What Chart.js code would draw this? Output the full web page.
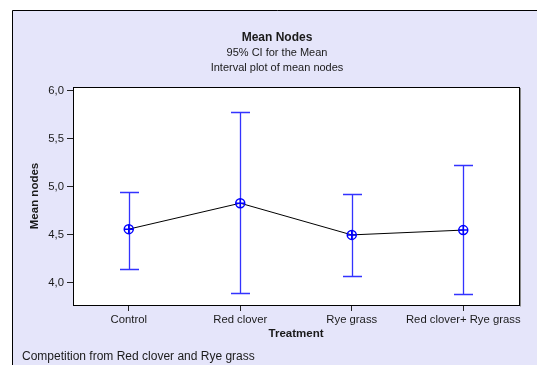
<!DOCTYPE html>
<html>
<head>
<meta charset="utf-8">
<script src="https://cdn.jsdelivr.net/npm/chart.js@4.4.1/dist/chart.umd.min.js"></script>
<style>
  html, body { margin: 0; padding: 0; background: #fff; overflow: hidden; }
  canvas { display: block; }
</style>
</head>
<body>
<canvas id="chart" width="542" height="370"></canvas>
<script>
const categories = ["Control", "Red clover", "Rye grass", "Red clover+ Rye grass"];
const means = [4.56, 4.83, 4.50, 4.55];
const upper = [4.95, 5.78, 4.93, 5.23];
const lower = [4.15, 3.90, 4.07, 3.88];
const yTicks = [4.0, 4.5, 5.0, 5.5, 6.0];

const titleLines = ["Mean Nodes", "95% CI for the Mean", "Interval plot of mean nodes"];
const footnote = "Competition from Red clover and Rye grass";

const FONT = "'Liberation Sans', Arial, sans-serif";
const BLUE = "#3333ff";
const TEXT = "#1a1a1a";

const points = means.map((m, i) => ({ x: i, y: m }));

// page background, lavender frame and white plot area
const background = {
    id: "background",
    beforeDraw(chart) {
        const { ctx, width, height, chartArea } = chart;
        ctx.save();
        ctx.fillStyle = "#fff";
        ctx.fillRect(0, 0, width, height);
        ctx.fillStyle = "#e5e5fa";
        ctx.fillRect(12, 10, width - 12, height - 10);
        ctx.strokeStyle = "#000";
        ctx.lineWidth = 1;
        ctx.beginPath();
        ctx.moveTo(12.5, height);
        ctx.lineTo(12.5, 10.5);
        ctx.lineTo(width, 10.5);
        ctx.stroke();
        ctx.fillStyle = "#fff";
        ctx.fillRect(chartArea.left, chartArea.top, chartArea.right - chartArea.left, chartArea.bottom - chartArea.top);
        ctx.restore();
    },
    afterDraw(chart) {
        const { ctx, chartArea } = chart;
        ctx.save();
        ctx.strokeStyle = "#000";
        ctx.lineWidth = 1;
        ctx.strokeRect(chartArea.left + 0.5, chartArea.top + 0.5,
            chartArea.right - chartArea.left, chartArea.bottom - chartArea.top);
        ctx.strokeStyle = "#888";
        ctx.beginPath();
        ctx.moveTo(chartArea.right + 1.5, chartArea.top + 1);
        ctx.lineTo(chartArea.right + 1.5, chartArea.bottom + 1.5);
        ctx.stroke();

        ctx.fillStyle = TEXT;
        ctx.textAlign = "center";
        ctx.textBaseline = "middle";
        ctx.font = "bold 12px " + FONT;
        ctx.fillText(titleLines[0], 277, 38);
        ctx.font = "11px " + FONT;
        ctx.fillText(titleLines[1], 277, 53);
        ctx.fillText(titleLines[2], 277, 68);

        ctx.textAlign = "left";
        ctx.font = "12px " + FONT;
        ctx.fillText(footnote, 22, 357);
        ctx.restore();
    },
};

// 95% CI whiskers
const errorBars = {
    id: "errorBars",
    beforeDatasetsDraw(chart) {
        const { ctx, scales: { x, y } } = chart;
        ctx.save();
        ctx.strokeStyle = BLUE;
        ctx.lineWidth = 1.3;
        categories.forEach((c, i) => {
            const px = Math.round(x.getPixelForValue(i)) + 0.5;
            const top = Math.round(y.getPixelForValue(upper[i])) + 0.5;
            const bot = Math.round(y.getPixelForValue(lower[i])) + 0.5;
            ctx.beginPath();
            ctx.moveTo(px, top);
            ctx.lineTo(px, bot);
            ctx.moveTo(px - 9.5, top);
            ctx.lineTo(px + 9.5, top);
            ctx.moveTo(px - 9.5, bot);
            ctx.lineTo(px + 9.5, bot);
            ctx.stroke();
        });
        ctx.restore();
    },
};

new Chart(document.getElementById("chart"), {
    type: "line",
    data: {
        datasets: [
            {
                data: points,
                showLine: false,
                pointStyle: "circle",
                pointRadius: 4.5,
                pointBorderWidth: 1.5,
                pointBorderColor: "#0000ff",
                pointBackgroundColor: "rgba(0,0,0,0)",
            },
            {
                data: points,
                showLine: false,
                pointStyle: "cross",
                pointRadius: 4.5,
                pointBorderWidth: 1.5,
                pointBorderColor: "#0000ff",
            },
            {
                data: points,
                borderColor: "#000",
                borderWidth: 1,
                pointRadius: 0,
                tension: 0,
            },
        ],
    },
    options: {
        responsive: false,
        animation: false,
        layout: { padding: { left: 20, right: 23, top: 87, bottom: 25 } },
        plugins: {
            legend: { display: false },
            tooltip: { enabled: false },
        },
        scales: {
            x: {
                type: "linear",
                position: "bottom",
                min: -0.5,
                max: 3.5,
                afterBuildTicks(scale) {
                    scale.ticks = categories.map((c, i) => ({ value: i }));
                },
                afterFit(scale) {
                    scale.height = 40;
                },
                ticks: {
                    autoSkip: false,
                    maxRotation: 0,
                    padding: 2,
                    color: TEXT,
                    font: { family: FONT, size: 11.3 },
                    callback: (v) => categories[v],
                },
                grid: { drawOnChartArea: false, tickLength: 6, color: "#222" },
                border: { display: false },
                title: {
                    display: true,
                    text: "Treatment",
                    color: TEXT,
                    font: { family: FONT, size: 11.5, weight: "bold" },
                    padding: { top: 0, bottom: 4 },
                },
            },
            y: {
                type: "linear",
                position: "left",
                min: 3.77,
                max: 6.04,
                afterBuildTicks(scale) {
                    scale.ticks = yTicks.map((v) => ({ value: v }));
                },
                afterFit(scale) {
                    scale.width = 53;
                },
                ticks: {
                    padding: 3,
                    color: TEXT,
                    font: { family: FONT, size: 11.3 },
                    callback: (v) => v.toFixed(1).replace(".", ","),
                },
                grid: { drawOnChartArea: false, tickLength: 6, color: "#222" },
                border: { display: false },
                title: {
                    display: true,
                    text: "Mean nodes",
                    color: TEXT,
                    font: { family: FONT, size: 11.5, weight: "bold" },
                    padding: { top: 8, bottom: 0 },
                },
            },
        },
    },
    plugins: [background, errorBars],
});
</script>
</body>
</html>
